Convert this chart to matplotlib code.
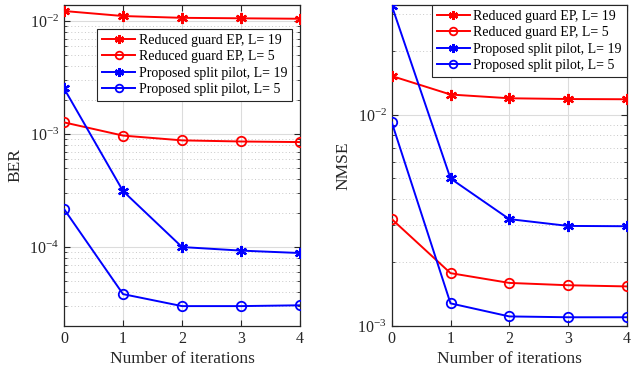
import matplotlib
matplotlib.use("Agg")
import matplotlib.pyplot as plt
from matplotlib.ticker import LogLocator, NullFormatter

plt.rcParams['font.family'] = ['Liberation Serif', 'DejaVu Serif']
plt.rcParams['mathtext.fontset'] = 'custom'
plt.rcParams['mathtext.rm'] = 'Liberation Serif'

iterations = [0, 1, 2, 3, 4]
xtick_labels = ["0", "1", "2", "3", "4"]
labels = ["Reduced guard EP, L= 19", "Reduced guard EP, L= 5",
          "Proposed split pilot, L= 19", "Proposed split pilot, L= 5"]

ber_rg19 = [1.23e-2, 1.11e-2, 1.07e-2, 1.06e-2, 1.05e-2]
ber_rg5 = [1.27e-3, 9.7e-4, 8.8e-4, 8.6e-4, 8.5e-4]
ber_sp19 = [2.54e-3, 3.13e-4, 1.0e-4, 9.3e-5, 8.85e-5]
ber_sp5 = [2.17e-4, 3.83e-5, 3.0e-5, 3.0e-5, 3.05e-5]

nmse_rg19 = [1.53e-2, 1.25e-2, 1.20e-2, 1.19e-2, 1.187e-2]
nmse_rg5 = [3.21e-3, 1.78e-3, 1.60e-3, 1.56e-3, 1.54e-3]
nmse_sp19 = [3.3e-2, 5.0e-3, 3.21e-3, 2.98e-3, 2.97e-3]
nmse_sp5 = [9.23e-3, 1.28e-3, 1.11e-3, 1.10e-3, 1.10e-3]

star = (6, 2, 0)
styles = [dict(color='#ff0000', marker=star, mfc='#ff0000'),
          dict(color='#ff0000', marker='o', mfc='none'),
          dict(color='#0000ff', marker=star, mfc='#0000ff'),
          dict(color='#0000ff', marker='o', mfc='none')]

fig = plt.figure(figsize=(6.37, 3.76), dpi=100)
ax1 = fig.add_axes([0.1005, 0.133, 0.3705, 0.8537])
ax2 = fig.add_axes([0.615, 0.133, 0.369, 0.8537])

def draw(ax, series, ylim, ylabel, legend_anchor):
    for s, st, lab in zip(series, styles, labels):
        is_star = st['marker'] is star
        ax.plot(iterations, s, color=st['color'], marker=st['marker'],
                markerfacecolor=st['mfc'], markeredgecolor=st['color'],
                markersize=8 if is_star else 6.8,
                markeredgewidth=1.6 if is_star else 1.3,
                linewidth=1.4, label=lab, zorder=3)
    ax.set_yscale('log')
    ax.set_xlim(0, 4)
    ax.set_ylim(*ylim)
    ax.set_xticks(iterations)
    ax.set_xticklabels(xtick_labels)
    ax.yaxis.set_major_locator(LogLocator(base=10, numticks=10))
    ax.yaxis.set_minor_locator(LogLocator(base=10, subs=range(2, 10), numticks=20))
    ax.yaxis.set_minor_formatter(NullFormatter())
    ax.grid(True, which='major', color='#dcdcdc', linewidth=0.8, linestyle='-')
    ax.grid(True, which='minor', axis='y', color='#c8c8c8', linewidth=0.7, linestyle=(0, (1, 2.5)))
    ax.set_axisbelow(True)
    ax.tick_params(which='both', direction='in', top=True, right=True,
                   labelsize=11.5, colors='#262626', labelcolor='#262626')
    ax.tick_params(which='major', length=4)
    ax.tick_params(which='minor', length=2)
    for sp in ax.spines.values():
        sp.set_color('#262626')
        sp.set_linewidth(0.9)
    ax.set_xlabel('Number of iterations', fontsize=12.5, color='#262626', labelpad=3)
    ax.set_ylabel(ylabel, fontsize=12.5, color='#262626')
    leg = ax.legend(loc='upper right', bbox_to_anchor=legend_anchor, fontsize=10,
                    frameon=True, fancybox=False, edgecolor='#262626',
                    framealpha=1, borderpad=0.35, labelspacing=0.24,
                    handlelength=2.4, handletextpad=0.25, borderaxespad=0)
    leg.get_frame().set_linewidth(0.8)
    for h in leg.legend_handles:
        h.set_markersize(6.5 if h.get_marker() == star else 5.5)

draw(ax1, [ber_rg19, ber_rg5, ber_sp19, ber_sp5], (2e-5, 1.39e-2), 'BER', (0.966, 0.925))
draw(ax2, [nmse_rg19, nmse_rg5, nmse_sp19, nmse_sp5], (1e-3, 3.32e-2), 'NMSE', (1.0, 1.0))

fig.savefig('out.png', dpi=100)
